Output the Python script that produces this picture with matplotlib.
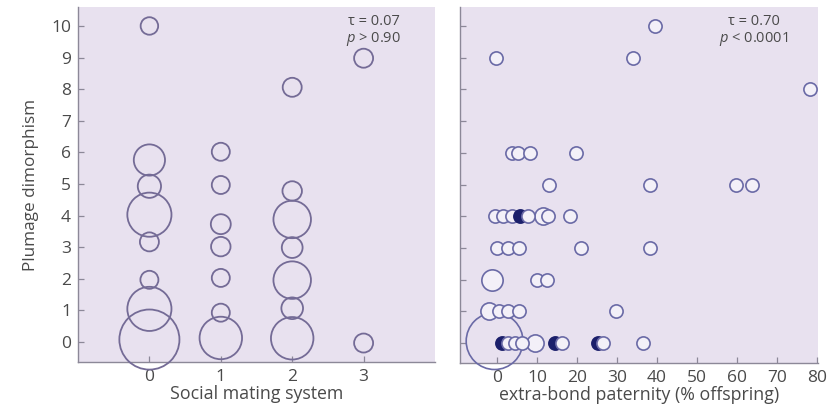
import numpy as np
import matplotlib
matplotlib.use("Agg")
import matplotlib.pyplot as plt

plt.rcParams['font.family'] = ['Open Sans', 'DejaVu Sans']
plt.rcParams['mathtext.fontset'] = 'custom'
plt.rcParams['mathtext.it'] = 'Open Sans:italic'
plt.rcParams['mathtext.rm'] = 'Open Sans'

# ---------------- data ----------------
# Left panel: social mating system vs plumage dimorphism (bubble weight ~ number of species)
left_x = [0, 0, 0, 0, 0, 0, 0, 0,
          1, 1, 1, 1, 1, 1, 1,
          2, 2, 2, 2, 2, 2, 2,
          3, 3]
left_y = [10.0, 5.76, 4.93, 4.03, 3.17, 1.97, 1.05, 0.08,
          6.02, 4.97, 3.73, 3.02, 2.03, 0.93, 0.13,
          8.06, 4.78, 3.88, 2.99, 1.96, 1.07, 0.12,
          8.98, -0.03]
left_w = [0.85, 2.7, 1.5, 5.4, 1.0, 0.9, 5.4, 10.0,
          0.9, 0.9, 1.1, 1.05, 0.9, 0.9, 5.0,
          1.0, 1.05, 3.9, 1.2, 3.9, 1.3, 5.0,
          1.0, 1.0]

# Right panel: extra-bond paternity (% offspring) vs plumage dimorphism
right_x = [39.5, -0.2, 34.0, 78.2,
           3.7, 5.3, 8.2, 19.7,
           13.0, 38.3, 59.7, 63.9,
           -0.5, 1.6, 3.7, 5.75, 7.8, 11.6, 12.8, 18.2,
           -0.1, 2.8, 5.5, 21.1, 38.3,
           -1.3, 9.9, 12.4,
           -1.9, 0.6, 2.8, 5.5, 29.8,
           -0.6, 1.2, 2.8, 4.5, 6.2, 9.5, 14.5, 16.2, 25.3, 26.6, 36.5]
right_y = [10, 9, 9, 8,
           6, 6, 6, 6,
           5, 5, 5, 5,
           4, 4, 4, 4, 4, 4, 4, 4,
           3, 3, 3, 3, 3,
           2, 2, 2,
           1, 1, 1, 1, 1,
           0.06, 0, 0, 0, 0, 0, 0, 0, 0, 0, 0]
right_w = [1, 1, 1, 1,
           1, 1, 1, 1,
           1, 1, 1, 1,
           1, 1, 1, 1, 1, 1.7, 1, 1,
           1, 1, 1, 1, 1,
           2.6, 1, 1,
           1.7, 1, 1, 1, 1,
           18.5, 1, 1, 1, 1, 1.7, 1, 1, 1, 1, 1]
right_filled = [0, 0, 0, 0,
                0, 0, 0, 0,
                0, 0, 0, 0,
                0, 0, 0, 1, 0, 0, 0, 0,
                0, 0, 0, 0, 0,
                0, 0, 0,
                0, 0, 0, 0, 0,
                0, 1, 0, 0, 0, 0, 1, 0, 1, 0, 0]

left_xticks = [0, 1, 2, 3]
right_xticks = [0, 10, 20, 30, 40, 50, 60, 70, 80]
yticks = list(range(0, 11))
left_stats = ["τ = 0.07", r"$\mathit{p}$ > 0.90"]
right_stats = ["τ = 0.70", r"$\mathit{p}$ < 0.0001"]

# ---------------- style ----------------
DPI = 100
BG = '#e8e1ef'
EDGE_L = '#746b96'
EDGE_R = '#6a6aa6'
FILL_R = '#f3f0f8'
DARK = '#1b1f6b'
SPINE = '#8c8898'
TXT = '#4a4a4a'


def size_from_radius_px(r_px):
    d_pt = 2 * np.asarray(r_px) * 72.0 / DPI
    return d_pt ** 2


fig = plt.figure(figsize=(8.31, 4.08), dpi=DPI)
axL = fig.add_axes([78 / 831, 46 / 408, 357 / 831, 355 / 408])
axR = fig.add_axes([460 / 831, 45 / 408, 358 / 831, 356 / 408])

for ax in (axL, axR):
    ax.set_facecolor(BG)
    for s in ('top', 'right'):
        ax.spines[s].set_visible(False)
    for s in ('left', 'bottom'):
        ax.spines[s].set_color(SPINE)
        ax.spines[s].set_linewidth(1.0)
    ax.tick_params(direction='in', length=4, width=0.9, color=SPINE,
                   labelcolor=TXT, labelsize=12.5)
    ax.set_ylim(-0.63, 10.6)
    ax.set_yticks(yticks)

# Left panel
axL.set_xlim(-1, 4)
axL.set_xticks(left_xticks)
axL.tick_params(axis='x', pad=5)
axL.tick_params(axis='y', pad=5)
rL = 9.5 * np.sqrt(np.array(left_w))
axL.scatter(left_x, left_y, s=size_from_radius_px(rL), facecolors='none',
            edgecolors=EDGE_L, linewidths=1.3, clip_on=False, zorder=3)
axL.set_xlabel('Social mating system', fontsize=12.8, color=TXT, labelpad=0)
axL.set_ylabel('Plumage dimorphism', fontsize=12.3, color=TXT, labelpad=9)
axL.text(0.829, 0.959, left_stats[0], transform=axL.transAxes, ha='center',
         va='center', fontsize=10.5, color=TXT)
axL.text(0.829, 0.911, left_stats[1], transform=axL.transAxes, ha='center',
         va='center', fontsize=10.5, color=TXT)

# Right panel
axR.set_xlim(-9.25, 80.3)
axR.set_xticks(right_xticks)
axR.set_yticklabels([])
axR.tick_params(axis='x', pad=5)
rR = 6.6 * np.sqrt(np.array(right_w))
filled = np.array(right_filled, dtype=bool)
xr = np.array(right_x)
yr = np.array(right_y)
sR = size_from_radius_px(rR)
order = np.argsort(-sR, kind='stable')
for i in order:
    big = rR[i] > 20
    if filled[i]:
        fc, ec = DARK, DARK
    else:
        fc, ec = ('none' if big else FILL_R), EDGE_R
    axR.scatter([xr[i]], [yr[i]], s=[sR[i]], facecolors=fc,
                edgecolors=ec, linewidths=1.2, clip_on=False, zorder=3)
axR.set_xlabel('extra-bond paternity (% offspring)', fontsize=12.8, color=TXT, labelpad=0)
axR.text(0.821, 0.959, right_stats[0], transform=axR.transAxes, ha='center',
         va='center', fontsize=10.5, color=TXT)
axR.text(0.821, 0.911, right_stats[1], transform=axR.transAxes, ha='center',
         va='center', fontsize=10.5, color=TXT)

fig.savefig('out.png', dpi=DPI)
